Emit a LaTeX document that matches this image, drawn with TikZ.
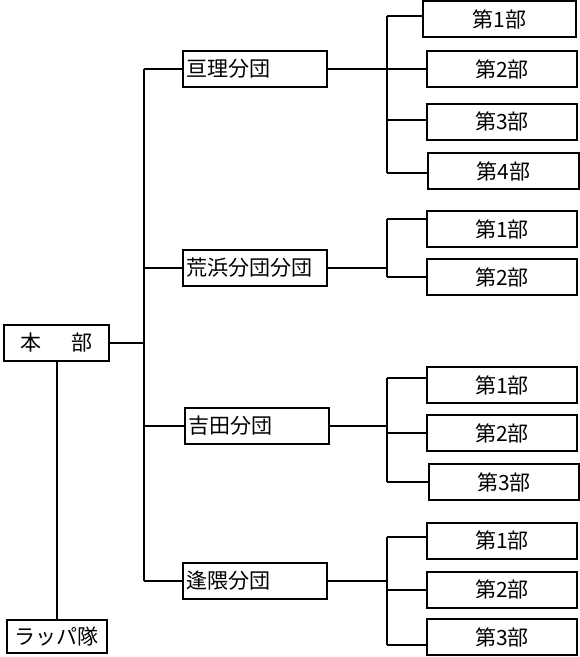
\documentclass[tikz,border=0pt]{standalone}
\usepackage{fontspec}
\newfontfamily\jp{Noto Sans CJK JP}
\begin{document}
\begin{tikzpicture}[x=1pt,y=-1pt,
  every node/.style={font=\jp\fontsize{21}{21}\selectfont},
  conn/.style={line width=2pt},
  basebox/.style={draw, line width=2pt, inner sep=0pt, minimum height=36pt},
  grpbox/.style={basebox, text width=137pt, inner xsep=3.5pt, align=left},
  subbox/.style={basebox, minimum width=150pt, align=center}]
\useasboundingbox (0,0) rectangle (580,657);
% head office
\node[basebox, minimum width=105pt] (hq) at (56.5,343) {本\hspace{30pt}部};
\node[basebox, minimum width=100pt, minimum height=33pt] (rp) at (57,636.5) {ラッパ隊};
% branches
\node[grpbox] (g1) at (255,69) {亘理分団};
\node[grpbox] (g2) at (255,267.5) {荒浜分団分団};
\node[grpbox] (g3) at (256.5,426) {吉田分団};
\node[grpbox] (g4) at (255,581) {逢隈分団};
% children
\node[subbox, minimum width=153pt] (c11) at (499.5,19) {第1部};
\node[subbox] (c12) at (502,69) {第2部};
\node[subbox] (c13) at (502,121.5) {第3部};
\node[subbox, minimum width=151pt] (c14) at (503.5,171) {第4部};
\node[subbox] (c21) at (502,229) {第1部};
\node[subbox] (c22) at (502,277) {第2部};
\node[subbox] (c31) at (502,385) {第1部};
\node[subbox] (c32) at (502,433) {第2部};
\node[subbox] (c33) at (504,482) {第3部};
\node[subbox] (c41) at (502,540.5) {第1部};
\node[subbox] (c42) at (502,589.5) {第2部};
\node[subbox] (c43) at (502,637) {第3部};
% trunk coordinates
\coordinate (tr) at (144,0);
\coordinate (st) at (387,0);
% hq connections
\draw[conn] (hq.south -| rp.north) -- (rp.north);
\draw[conn] (hq.east) -- (hq.east -| tr);
\draw[conn] (g1.west -| tr) -- (g4.west -| tr);
\foreach \g in {g1,g2,g3,g4}{
  \draw[conn] (\g.west -| tr) -- (\g.west);
}
% group 1
\draw[conn] (g1.east) -- (g1.east -| st);
\draw[conn] ([yshift=3pt]c11.west -| st) -- ([yshift=-2pt]c14.west -| st);
\draw[conn] ([yshift=3pt]c11.west -| st) -- ([yshift=3pt]c11.west);
\draw[conn] (c12.west -| st) -- (c12.west);
\draw[conn] ([yshift=2pt]c13.west -| st) -- ([yshift=2pt]c13.west);
\draw[conn] ([yshift=-2pt]c14.west -| st) -- ([yshift=-2pt]c14.west);
% group 2
\draw[conn] (g2.east) -- (g2.east -| st);
\draw[conn] ([yshift=10pt]c21.west -| st) -- (c22.west -| st);
\draw[conn] ([yshift=10pt]c21.west -| st) -- ([yshift=10pt]c21.west);
\draw[conn] (c22.west -| st) -- (c22.west);
% group 3
\draw[conn] (g3.east) -- (g3.east -| st);
\draw[conn] ([yshift=7pt]c31.west -| st) -- (c33.west -| st);
\draw[conn] ([yshift=7pt]c31.west -| st) -- ([yshift=7pt]c31.west);
\draw[conn] (c32.west -| st) -- (c32.west);
\draw[conn] (c33.west -| st) -- (c33.west);
% group 4
\draw[conn] (g4.east) -- (g4.east -| st);
\draw[conn] ([yshift=4pt]c41.west -| st) -- ([yshift=-8pt]c43.west -| st);
\draw[conn] ([yshift=4pt]c41.west -| st) -- ([yshift=4pt]c41.west);
\draw[conn] (c42.west -| st) -- (c42.west);
\draw[conn] ([yshift=-8pt]c43.west -| st) -- ([yshift=-8pt]c43.west);
\end{tikzpicture}
\end{document}
